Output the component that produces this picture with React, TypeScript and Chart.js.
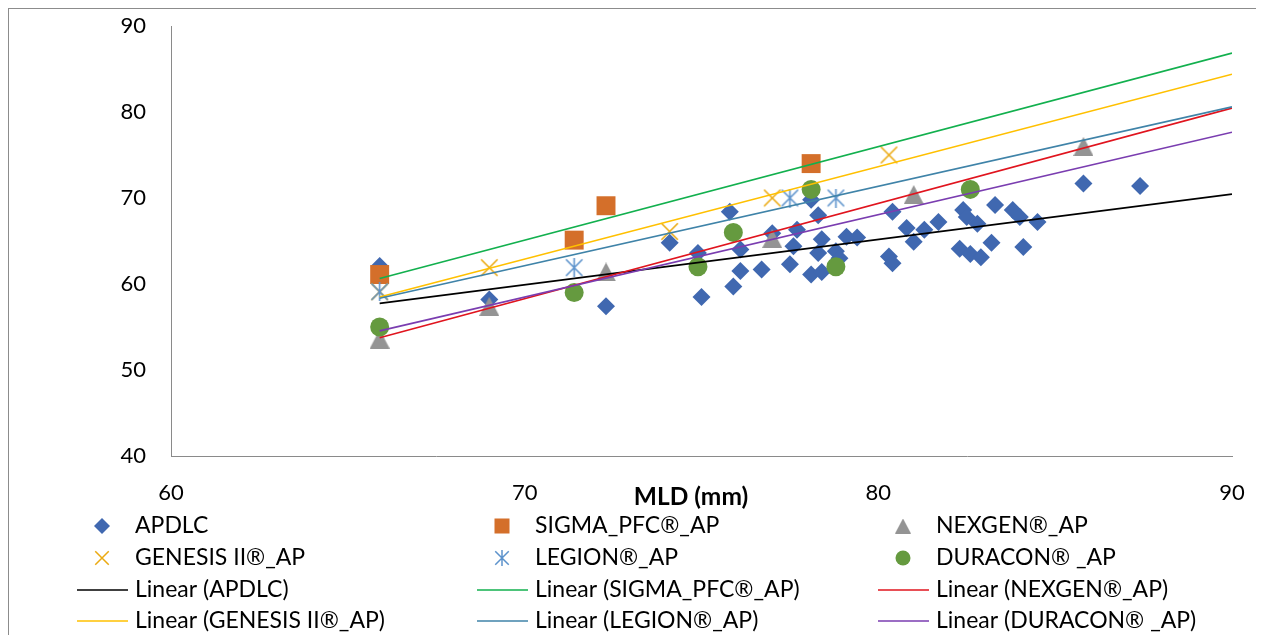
import React, { useEffect, useRef } from "react";
import { Chart, registerables } from "chart.js";

Chart.register(...registerables);

// ---------- data ----------
const seriesNames = ["APDLC", "SIGMA_PFC®_AP", "NEXGEN®_AP", "GENESIS II®_AP", "LEGION®_AP", "DURACON® _AP"];
const xTitle = "MLD (mm)";

const apdlcX = [65.9, 69.0, 72.3, 74.1, 74.9, 75.0, 75.8, 75.9, 76.1, 76.1, 76.7, 77.0, 77.5, 77.6, 77.7, 78.1, 78.1, 78.3, 78.4, 78.3, 78.4, 78.8, 78.9, 79.1, 79.4, 80.4, 80.3, 80.4, 80.8, 81.0, 81.3, 81.7, 82.4, 82.5, 82.8, 82.3, 82.6, 82.9, 83.2, 83.3, 83.8, 84.0, 84.1, 84.5, 85.8, 87.4];
const apdlcY = [62.1, 58.2, 57.4, 64.8, 63.6, 58.5, 68.4, 59.7, 64.0, 61.5, 61.7, 65.9, 62.3, 64.4, 66.3, 69.8, 61.1, 68.0, 65.2, 63.6, 61.4, 63.8, 63.0, 65.5, 65.4, 68.4, 63.2, 62.4, 66.5, 64.9, 66.3, 67.2, 68.6, 67.8, 67.0, 64.1, 63.5, 63.1, 64.8, 69.2, 68.6, 67.8, 64.3, 67.2, 71.7, 71.4];

const sigmaX = [65.9, 71.4, 72.3, 78.1];
const sigmaY = [61.1, 65.1, 69.1, 74.0];

const nexgenX = [65.9, 69.0, 72.3, 77.0, 81.0, 85.8];
const nexgenY = [53.6, 57.4, 61.4, 65.3, 70.4, 76.0];

const genesisX = [65.9, 69.0, 74.1, 77.0, 80.3];
const genesisY = [59.1, 61.9, 66.1, 70.0, 75.0];

const legionX = [65.9, 71.4, 77.5, 78.8];
const legionY = [59.1, 61.9, 70.0, 70.0];

const duraconX = [65.9, 71.4, 74.9, 75.9, 78.1, 78.8, 82.6];
const duraconY = [55.0, 59.0, 62.0, 66.0, 71.0, 62.0, 71.0];

// linear trendline end points
const trendX = [65.9, 90];
const apdlcTrendY = [57.75, 70.45];
const sigmaTrendY = [60.65, 86.85];
const nexgenTrendY = [53.75, 80.45];
const genesisTrendY = [58.5, 84.4];
const legionTrendY = [58.35, 80.6];
const duraconTrendY = [54.55, 77.65];

const xTicks = [60, 70, 80, 90];
const yTicks = [40, 50, 60, 70, 80, 90];

// ---------- styles ----------
const C_APDLC = "#4068B0";
const C_SIGMA = "#D46F2A";
const C_NEXGEN = "#949494";
const C_GENESIS = "#EBAA12";
const C_LEGION = "#5D93CC";
const C_DURACON = "#659A3F";

const T_APDLC = "#000000";
const T_SIGMA = "#12B04E";
const T_NEXGEN = "#E0141E";
const T_GENESIS = "#FFC000";
const T_LEGION = "#3F83A8";
const T_DURACON = "#7A3DB0";

const FONT = "Lato, 'Open Sans', sans-serif";
const CW = 1252;
const CH = 634;

function pts(xs: number[], ys: number[]) {
  return xs.map((x, i) => ({ x, y: ys[i] }));
}

function makeTriangle(color: string, w: number, h: number) {
  const c = document.createElement("canvas");
  c.width = w;
  c.height = h;
  const g = c.getContext("2d")!;
  g.fillStyle = color;
  g.beginPath();
  g.moveTo(w / 2, 0);
  g.lineTo(w, h);
  g.lineTo(0, h);
  g.closePath();
  g.fill();
  return c;
}

function makeCross(color: string, s: number, lw: number, vertical: boolean) {
  const c = document.createElement("canvas");
  c.width = s;
  c.height = s;
  const g = c.getContext("2d")!;
  g.strokeStyle = color;
  g.lineWidth = lw;
  const m = lw / 2 + 0.5;
  g.beginPath();
  g.moveTo(m, m);
  g.lineTo(s - m, s - m);
  g.moveTo(s - m, m);
  g.lineTo(m, s - m);
  if (vertical) {
    g.moveTo(s / 2, 0);
    g.lineTo(s / 2, s);
  }
  g.stroke();
  return c;
}

export default function App() {
  const ref = useRef<HTMLCanvasElement | null>(null);

  useEffect(() => {
    if (!ref.current) return;

    const triBig = makeTriangle(C_NEXGEN, 20, 19);
    const xBig = makeCross(C_GENESIS, 19, 1.6, false);
    const starBig = makeCross(C_LEGION, 19, 1.6, true);
    const triSmall = makeTriangle(C_NEXGEN, 16, 15);
    const xSmall = makeCross(C_GENESIS, 16, 1.5, false);
    const starSmall = makeCross(C_LEGION, 16, 1.5, true);

    const scatterBase = { showLine: false, borderWidth: 0 };

    const trend = (label: string, ys: number[], color: string, order: number) => ({
      type: "line" as const,
      label,
      data: pts(trendX, ys),
      showLine: true,
      borderColor: color,
      backgroundColor: color,
      borderWidth: 1.6,
      pointRadius: 0,
      order,
    });

    const legendItems: { label: string; kind: string; color: string; img?: HTMLCanvasElement }[] = [
      { label: seriesNames[0], kind: "diamond", color: C_APDLC },
      { label: seriesNames[1], kind: "square", color: C_SIGMA },
      { label: seriesNames[2], kind: "img", color: C_NEXGEN, img: triSmall },
      { label: seriesNames[3], kind: "img", color: C_GENESIS, img: xSmall },
      { label: seriesNames[4], kind: "img", color: C_LEGION, img: starSmall },
      { label: seriesNames[5], kind: "circle", color: C_DURACON },
      { label: "Linear (" + seriesNames[0] + ")", kind: "line", color: T_APDLC },
      { label: "Linear (" + seriesNames[1] + ")", kind: "line", color: T_SIGMA },
      { label: "Linear (" + seriesNames[2] + ")", kind: "line", color: T_NEXGEN },
      { label: "Linear (" + seriesNames[3] + ")", kind: "line", color: T_GENESIS },
      { label: "Linear (" + seriesNames[4] + ")", kind: "line", color: T_LEGION },
      { label: "Linear (" + seriesNames[5] + ")", kind: "line", color: T_DURACON },
    ];

    const colTextX = [126, 526, 927];
    const rowY = [517, 549, 581, 612];

    const gridLegend = {
      id: "gridLegend",
      afterDraw(chart: any) {
        const ctx = chart.ctx as CanvasRenderingContext2D;
        ctx.save();
        // x-axis title, drawn in the tick-label row
        ctx.font = "bold 24.5px " + FONT;
        ctx.textBaseline = "middle";
        ctx.textAlign = "center";
        ctx.fillStyle = "#000000";
        ctx.fillText(xTitle, 682, 488);

        ctx.font = "23px " + FONT;
        ctx.textAlign = "left";
        legendItems.forEach((it, i) => {
          const col = i % 3;
          const row = Math.floor(i / 3);
          const tx = colTextX[col];
          const y = rowY[row];
          const mx = tx - 33;
          ctx.fillStyle = it.color;
          ctx.strokeStyle = it.color;
          if (it.kind === "diamond") {
            ctx.beginPath();
            ctx.moveTo(mx - 8, y);
            ctx.lineTo(mx, y - 8);
            ctx.lineTo(mx + 8, y);
            ctx.lineTo(mx, y + 8);
            ctx.closePath();
            ctx.fill();
          } else if (it.kind === "square") {
            ctx.fillRect(mx - 7.5, y - 7.5, 15, 15);
          } else if (it.kind === "circle") {
            ctx.beginPath();
            ctx.arc(mx, y, 7.5, 0, Math.PI * 2);
            ctx.fill();
          } else if (it.kind === "img" && it.img) {
            ctx.drawImage(it.img, mx - it.img.width / 2, y - it.img.height / 2);
          } else if (it.kind === "line") {
            ctx.lineWidth = 1.6;
            ctx.beginPath();
            ctx.moveTo(tx - 58, y);
            ctx.lineTo(tx - 7, y);
            ctx.stroke();
          }
          ctx.fillStyle = "#000000";
          ctx.fillText(it.label, tx, y);
        });
        ctx.restore();
      },
    };

    const chart = new Chart(ref.current, {
      type: "scatter",
      data: {
        datasets: [
          { ...scatterBase, label: seriesNames[0], data: pts(apdlcX, apdlcY), pointStyle: "rectRot", pointRadius: 9, backgroundColor: C_APDLC, borderColor: C_APDLC, order: 16 },
          { ...scatterBase, label: seriesNames[1], data: pts(sigmaX, sigmaY), pointStyle: "rect", pointRadius: 13.4, backgroundColor: C_SIGMA, borderColor: C_SIGMA, order: 15 },
          { ...scatterBase, label: seriesNames[2], data: pts(nexgenX, nexgenY), pointStyle: triBig, pointRadius: 10, backgroundColor: C_NEXGEN, borderColor: C_NEXGEN, order: 14 },
          { ...scatterBase, label: seriesNames[3], data: pts(genesisX, genesisY), pointStyle: xBig, pointRadius: 10, backgroundColor: C_GENESIS, borderColor: C_GENESIS, order: 13 },
          { ...scatterBase, label: seriesNames[4], data: pts(legionX, legionY), pointStyle: starBig, pointRadius: 10, backgroundColor: C_LEGION, borderColor: C_LEGION, order: 12 },
          { ...scatterBase, label: seriesNames[5], data: pts(duraconX, duraconY), pointStyle: "circle", pointRadius: 9.5, backgroundColor: C_DURACON, borderColor: C_DURACON, order: 11 },
          trend("Linear (" + seriesNames[0] + ")", apdlcTrendY, T_APDLC, 6),
          trend("Linear (" + seriesNames[1] + ")", sigmaTrendY, T_SIGMA, 5),
          trend("Linear (" + seriesNames[2] + ")", nexgenTrendY, T_NEXGEN, 4),
          trend("Linear (" + seriesNames[3] + ")", genesisTrendY, T_GENESIS, 3),
          trend("Linear (" + seriesNames[4] + ")", legionTrendY, T_LEGION, 2),
          trend("Linear (" + seriesNames[5] + ")", duraconTrendY, T_DURACON, 1),
        ] as any,
      },
      options: {
        animation: false,
        responsive: false,
        maintainAspectRatio: false,
        devicePixelRatio: 1,
        events: [],
        layout: { autoPadding: false, padding: { left: 0, right: 29, top: 17, bottom: 127 } },
        plugins: {
          legend: { display: false },
          tooltip: { enabled: false },
          title: { display: false },
        },
        scales: {
          x: {
            type: "linear",
            min: xTicks[0],
            max: xTicks[xTicks.length - 1],
            afterBuildTicks: (s: any) => { s.ticks = xTicks.map((v) => ({ value: v })); },
            afterFit: (s: any) => {
              s.height = 60;
              s.paddingLeft = 0;
              s.paddingRight = 0;
              s.paddingTop = 0;
              s.paddingBottom = 0;
            },
            grid: { display: false, drawTicks: false },
            border: { display: true, color: "#8a8a8a", width: 1 },
            ticks: { padding: 24, color: "#000", font: { family: FONT, size: 22 } },
          },
          y: {
            type: "linear",
            min: yTicks[0],
            max: yTicks[yTicks.length - 1],
            afterBuildTicks: (s: any) => { s.ticks = yTicks.map((v) => ({ value: v })); },
            afterFit: (s: any) => {
              s.width = 162;
              s.paddingLeft = 0;
              s.paddingRight = 0;
              s.paddingTop = 0;
              s.paddingBottom = 0;
            },
            grid: { display: false, drawTicks: false },
            border: { display: true, color: "#8a8a8a", width: 1 },
            ticks: { padding: 25, color: "#000", font: { family: FONT, size: 22 } },
          },
        },
      } as any,
      plugins: [gridLegend],
    });

    return () => chart.destroy();
  }, []);

  return (
    <div
      style={{
        width: 1254,
        minWidth: 1254,
        flexShrink: 0,
        height: 635,
        marginBottom: -8,
        border: "1px solid #8c8c8c",
        borderBottom: "none",
        boxSizing: "border-box",
        position: "relative",
        background: "#fff",
        overflow: "hidden",
      }}
    >
      <canvas ref={ref} width={CW} height={CH} style={{ display: "block", width: CW, height: CH }} />
    </div>
  );
}
